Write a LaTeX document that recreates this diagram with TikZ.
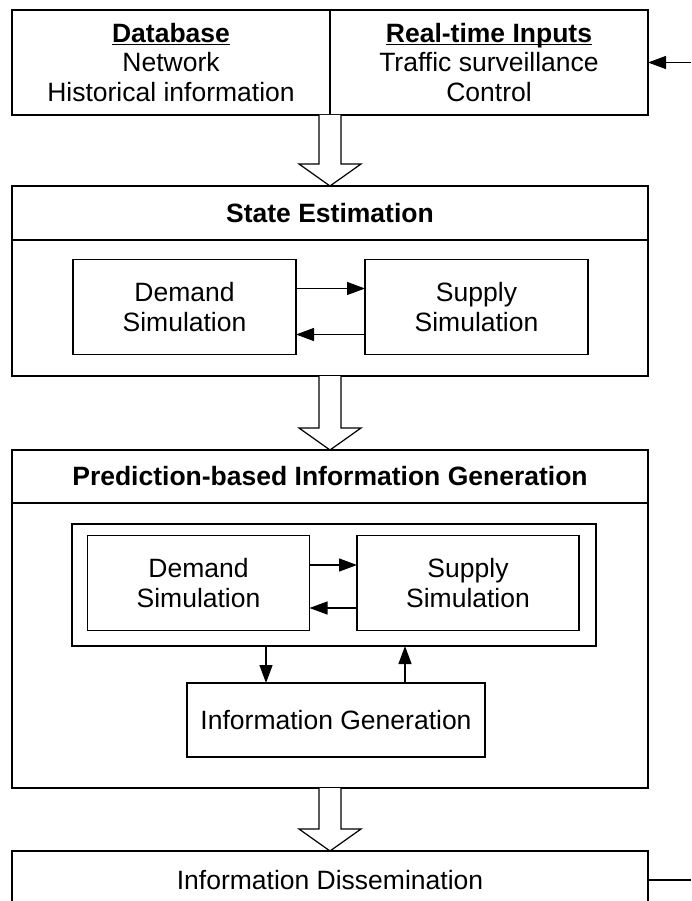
\documentclass[tikz,border=0pt]{standalone}
\usepackage{fontspec}
\setmainfont{Liberation Sans}
\usetikzlibrary{arrows.meta,positioning,calc}
\newcommand\ulhead[1]{\setbox0\hbox{\bfseries #1}\rlap{\rule[-3pt]{\wd0}{1.3pt}}\box0}
\newcommand\hollowarrow[2]{\draw[fill=white] ($(#1)+(-11,0)$) -- ($(#2.north)+(-11,-22)$) -- ($(#2.north)+(-31,-22)$) -- (#2.north) -- ($(#2.north)+(31,-22)$) -- ($(#2.north)+(11,-22)$) -- ($(#1)+(11,0)$);}
\begin{document}
\begin{tikzpicture}[x=1pt,y=-1pt,line width=1.2pt,
box/.style={draw,rectangle,inner sep=0pt,outer sep=0pt,align=center,font=\fontsize{26.5}{29.5}\selectfont},
wide/.style={box,minimum width=636pt},
title/.style={wide,font=\fontsize{26.5}{29.5}\selectfont\bfseries},
sim/.style={box,minimum width=223pt,minimum height=95pt},
arr/.style={-{Triangle[length=18pt,width=13pt]}}]
\useasboundingbox (0,0) rectangle (691,901);
\node[box,minimum width=318pt,minimum height=105pt] (db) at (171,62.5) {\ulhead{Database}\\Network\\Historical information};
\node[box,minimum width=318pt,minimum height=105pt,right=0pt of db] (rt) {\ulhead{Real-time Inputs}\\Traffic surveillance\\Control};
\coordinate (in) at (691,62.5);
\draw[arr] (in) -- (rt.east);
\node[title,minimum height=54pt] (setitle) at (330,213) {State Estimation};
\node[wide,minimum height=136pt,below=0pt of setitle] (se) {};
\node[sim] (dem1) at (184.5,307) {Demand\\Simulation};
\node[sim] (sup1) at (476.5,307) {Supply\\Simulation};
\draw[arr] ([yshift=18.5pt]dem1.east) -- ([yshift=18.5pt]sup1.west);
\draw[arr] ([yshift=-27.5pt]sup1.west) -- ([yshift=-27.5pt]dem1.east);
\hollowarrow{db.south east}{setitle}
\node[title,minimum height=53pt] (prtitle) at (330,476.5) {Prediction-based Information Generation};
\node[wide,minimum height=285pt,below=0pt of prtitle] (pr) {};
\hollowarrow{se.south}{prtitle}
\node[box,minimum width=524pt,minimum height=122pt] (cont) at (334,585) {};
\node[sim,minimum width=222pt] (dem2) at (198.5,583) {Demand\\Simulation};
\node[sim,minimum width=222pt] (sup2) at (468,583) {Supply\\Simulation};
\draw[arr] ([yshift=18pt]dem2.east) -- ([yshift=18pt]sup2.west);
\draw[arr] ([yshift=-25pt]sup2.west) -- ([yshift=-25pt]dem2.east);
\node[box,minimum width=298pt,minimum height=74pt] (ig) at (336,720) {Information Generation};
\draw[arr] (cont.south -| 266,0) -- (ig.north -| 266,0);
\draw[arr] (ig.north -| 405,0) -- (cont.south -| 405,0);
\node[wide,minimum height=58pt] (dis) at (330,880) {Information Dissemination};
\hollowarrow{pr.south}{dis}
\coordinate (out) at (691,880);
\draw (dis.east) -- (out);
\end{tikzpicture}
\end{document}
